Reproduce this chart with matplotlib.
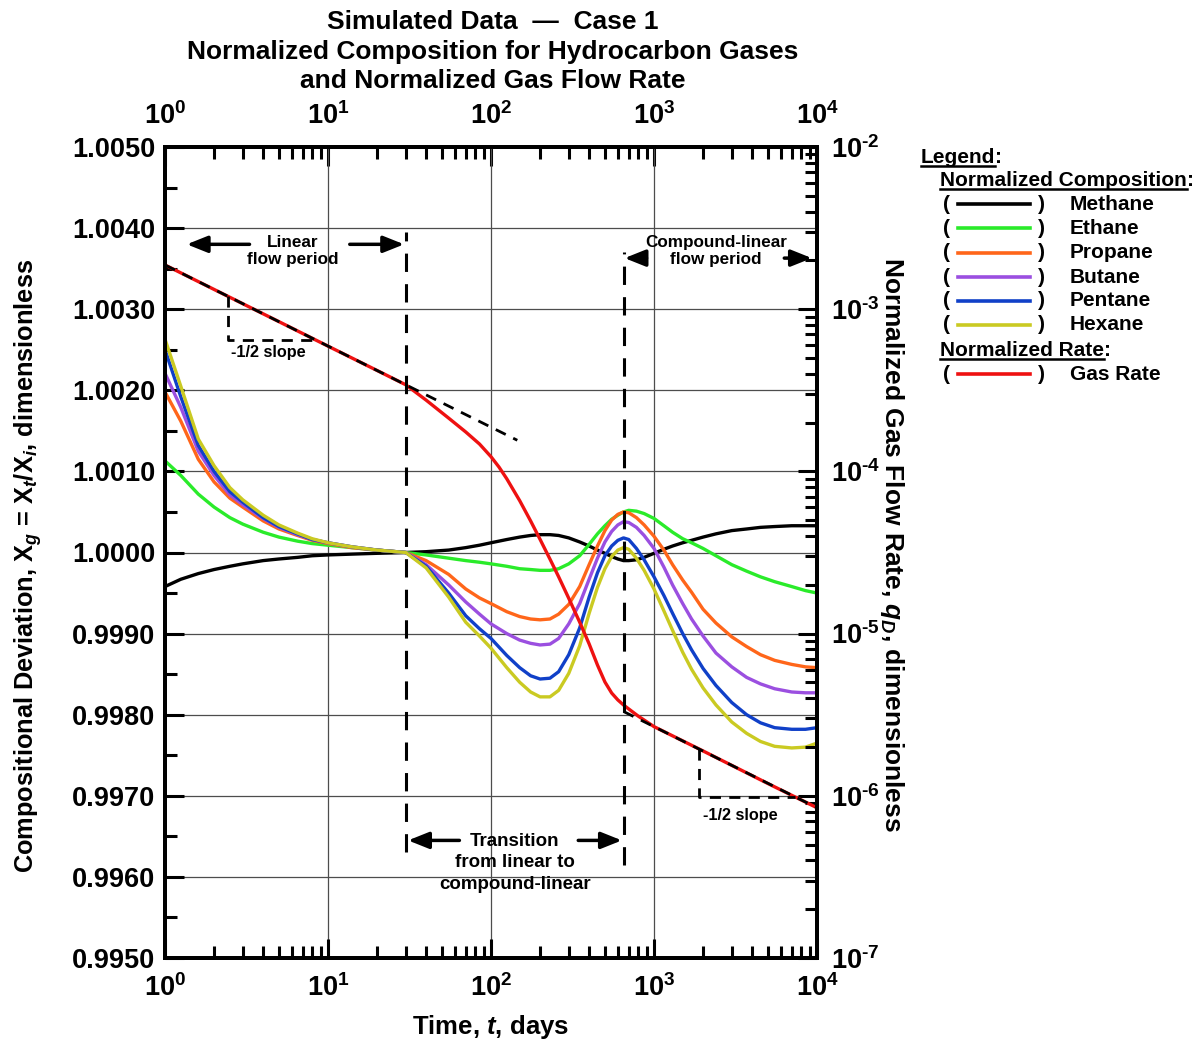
import numpy as np
import matplotlib
matplotlib.use("Agg")
import matplotlib.pyplot as plt
from matplotlib.ticker import FixedLocator, FuncFormatter, LogLocator
from matplotlib.lines import Line2D

plt.rcParams['font.family'] = ['Liberation Sans', 'DejaVu Sans']
plt.rcParams['font.weight'] = 'bold'
plt.rcParams['axes.labelweight'] = 'bold'
plt.rcParams['mathtext.fontset'] = 'custom'
plt.rcParams['mathtext.rm'] = 'Liberation Sans:bold'
plt.rcParams['mathtext.bf'] = 'Liberation Sans:bold'
plt.rcParams['mathtext.it'] = 'Liberation Sans:italic:bold'

# time, days
t = [1, 1.25, 1.6, 2, 2.5, 3, 4, 5, 6.5, 8, 10, 14, 20, 30, 40, 55, 70, 85, 100, 125, 150,
     175, 200, 230, 260, 300, 350, 400, 450, 500, 550, 600, 650, 700, 780, 870, 1000, 1150,
     1300, 1500, 1700, 2000, 2400, 3000, 3700, 4500, 5500, 7000, 8500, 10000]

methane = [0.99958, 0.99967, 0.99974, 0.99979, 0.99983, 0.99986, 0.99990, 0.99992, 0.99994,
           0.99996, 0.99997, 0.99998, 0.99999, 1.00000, 1.00001, 1.00003, 1.00006, 1.00009,
           1.00012, 1.00016, 1.00019, 1.00021, 1.00022, 1.00022, 1.00021, 1.00018, 1.00013,
           1.00008, 1.00003, 0.99999, 0.99995, 0.99992, 0.99990, 0.99990, 0.99991, 0.99994,
           0.99999, 1.00004, 1.00008, 1.00012, 1.00015, 1.00019, 1.00023, 1.00027, 1.00029,
           1.00031, 1.00032, 1.00033, 1.00033, 1.00033]
ethane = [1.00113, 1.00095, 1.00072, 1.00056, 1.00043, 1.00035, 1.00025, 1.00019, 1.00014,
          1.00011, 1.00009, 1.00006, 1.00003, 1.00000, 0.99997, 0.99993, 0.99990, 0.99988,
          0.99986, 0.99983, 0.99980, 0.99979, 0.99978, 0.99978, 0.99980, 0.99986, 0.99996,
          1.00010, 1.00023, 1.00033, 1.00041, 1.00046, 1.00050, 1.00052, 1.00051, 1.00048,
          1.00042, 1.00033, 1.00025, 1.00017, 1.00012, 1.00005, 0.99996, 0.99985, 0.99977,
          0.99970, 0.99964, 0.99958, 0.99953, 0.99950]
propane = [1.00198, 1.00162, 1.00115, 1.00087, 1.00067, 1.00056, 1.00039, 1.00029, 1.00021,
           1.00015, 1.00011, 1.00006, 1.00003, 1.00000, 0.99990, 0.99973, 0.99955, 0.99944,
           0.99937, 0.99927, 0.99921, 0.99918, 0.99917, 0.99918, 0.99924, 0.99936, 0.99958,
           0.99985, 1.00008, 1.00027, 1.00040, 1.00047, 1.00050, 1.00049, 1.00043, 1.00034,
           1.00020, 1.00003, 0.99985, 0.99966, 0.99951, 0.99930, 0.99913, 0.99896, 0.99884,
           0.99874, 0.99867, 0.99862, 0.99859, 0.99858]
butane = [1.00221, 1.00179, 1.00125, 1.00095, 1.00071, 1.00059, 1.00042, 1.00031, 1.00022,
          1.00016, 1.00012, 1.00007, 1.00003, 1.00000, 0.99985, 0.99960, 0.99939, 0.99924,
          0.99912, 0.99900, 0.99892, 0.99888, 0.99886, 0.99887, 0.99894, 0.99912, 0.99937,
          0.99967, 0.99993, 1.00013, 1.00026, 1.00034, 1.00038, 1.00037, 1.00031, 1.00021,
          1.00005, 0.99982, 0.99960, 0.99937, 0.99918, 0.99897, 0.99876, 0.99859, 0.99846,
          0.99838, 0.99832, 0.99828, 0.99827, 0.99827]
pentane = [1.00250, 1.00192, 1.00132, 1.00100, 1.00075, 1.00062, 1.00043, 1.00032, 1.00023,
           1.00016, 1.00012, 1.00007, 1.00003, 1.00000, 0.99983, 0.99950, 0.99922, 0.99906,
           0.99894, 0.99873, 0.99858, 0.99848, 0.99844, 0.99845, 0.99853, 0.99874, 0.99907,
           0.99945, 0.99975, 0.99996, 1.00008, 1.00015, 1.00018, 1.00016, 1.00005, 0.99991,
           0.99970, 0.99947, 0.99925, 0.99900, 0.99880, 0.99857, 0.99836, 0.99815, 0.99800,
           0.99790, 0.99784, 0.99782, 0.99782, 0.99784]
hexane = [1.00263, 1.00205, 1.00140, 1.00107, 1.00080, 1.00065, 1.00046, 1.00034, 1.00024,
          1.00017, 1.00012, 1.00007, 1.00003, 1.00000, 0.99981, 0.99945, 0.99914, 0.99897,
          0.99882, 0.99858, 0.99840, 0.99828, 0.99822, 0.99822, 0.99830, 0.99851, 0.99885,
          0.99925, 0.99957, 0.99980, 0.99995, 1.00003, 1.00006, 1.00004, 0.99993, 0.99978,
          0.99955, 0.99928, 0.99904, 0.99877, 0.99856, 0.99833, 0.99812, 0.99791, 0.99777,
          0.99767, 0.99761, 0.99759, 0.99760, 0.99765]

t_rate = [1, 2, 3, 5, 10, 20, 30, 40, 55, 70, 85, 100, 112, 125, 150, 175, 200, 230, 260,
          300, 350, 400, 450, 500, 550, 600, 650, 700, 800, 1000, 2000, 5000, 10000]
gas_rate = [1.873e-3, 1.324e-3, 1.081e-3, 8.38e-4, 5.92e-4, 4.19e-4, 3.42e-4, 2.75e-4,
            2.13e-4, 1.75e-4, 1.475e-4, 1.232e-4, 1.063e-4, 9.0e-5, 6.6e-5, 4.95e-5, 3.81e-5,
            2.88e-5, 2.24e-5, 1.65e-5, 1.176e-5, 8.64e-6, 6.4e-6, 5.03e-6, 4.3e-6, 3.9e-6,
            3.63e-6, 3.43e-6, 3.10e-6, 2.67e-6, 1.89e-6, 1.19e-6, 8.44e-7]

# -1/2 slope reference lines and triangles (t, rate)
ref1_t = [1, 145]
ref1_q = [1.873e-3, 1.556e-4]
ref2_t = [650, 10000]
ref2_q = [3.31e-6, 8.44e-7]
tri1_t = [2.44, 2.44, 8.4]
tri1_q = [1.199e-3, 6.45e-4, 6.45e-4]
tri2_t = [1900, 1900, 7360]
tri2_q = [1.94e-6, 9.84e-7, 9.84e-7]

decades = [1, 10, 100, 1000, 10000]
names = ['Methane', 'Ethane', 'Propane', 'Butane', 'Pentane', 'Hexane']
series = [methane, ethane, propane, butane, pentane, hexane]
colors = ['#000000', '#2AEB2A', '#FF661A', '#9B4FE0', '#1040C8', '#CACA22']
red = '#EE1111'

W, H = 1204, 1047
fig = plt.figure(figsize=(W / 100, H / 100), dpi=100)
ax = fig.add_axes([165 / W, 1 - 958 / H, 652 / W, 811 / H])
ax2 = ax.twinx()

ax.set_xscale('log')
ax.set_xlim(1, 1e4)
ax.set_ylim(0.9950, 1.0050)
ax2.set_yscale('log')
ax2.set_ylim(1e-7, 1e-2)

ax.grid(True, which='major', color='0.3', lw=0.9)
ax.set_axisbelow(True)

for vals, c in zip(series, colors):
    ax.plot(t, vals, color=c, lw=2.4)

ax2.plot(t_rate, gas_rate, color=red, lw=2.4)
for xs, ys in [(ref1_t, ref1_q), (ref2_t, ref2_q), (tri1_t, tri1_q), (tri2_t, tri2_q)]:
    ax2.plot(xs, ys, color='k', lw=2.0, dashes=(4, 3))

# period boundaries
ax2.plot([30, 30], [0.99631, 1.00395], color='k', lw=2.2, dashes=(6, 4), transform=ax.transData)
ax2.plot([650, 650], [0.99615, 1.00370], color='k', lw=2.2, dashes=(6, 4), transform=ax.transData)


def arrow(x0, x1, y):
    ax.annotate('', xy=(x1, y), xytext=(x0, y),
                arrowprops=dict(arrowstyle='-|>,head_length=0.7,head_width=0.28', lw=2.5,
                                color='k', mutation_scale=18, shrinkA=0, shrinkB=0))


arrow(3.3, 1.36, 1.0038)
arrow(13.6, 29.3, 1.0038)
ax.text(6.1, 1.00372, 'Linear\nflow period', ha='center', va='center', fontsize=12.3,
        linespacing=1.2)

arrow(900, 660, 1.00363)
arrow(6300, 9300, 1.00363)
ax.text(2400, 1.00372, 'Compound-linear\nflow period', ha='center', va='center', fontsize=12.3,
        linespacing=1.2)

arrow(64, 31, 0.99645)
arrow(343, 635, 0.99645)
ax.text(140, 0.99654, 'Transition\nfrom linear to\ncompound-linear', ha='center', va='top',
        fontsize=13.5, linespacing=1.33)

ax.text(4.28, 1.00246, '-1/2 slope', ha='center', va='center', fontsize=11.7)
ax.text(3370, 0.99676, '-1/2 slope', ha='center', va='center', fontsize=11.7)

# ticks
ax.yaxis.set_major_locator(FixedLocator(np.arange(0.9950, 1.00501, 0.001)))
ax.yaxis.set_minor_locator(FixedLocator(np.arange(0.9955, 1.0050, 0.001)))
ax.yaxis.set_major_formatter(FuncFormatter(lambda v, p: '%.4f' % v))


def powfmt(v, p):
    e = int(round(np.log10(v)))
    if e < 0:
        return r'$\mathbf{10^{\text{-}%d}}$' % (-e)
    return r'$\mathbf{10^{%d}}$' % e


logfmt = FuncFormatter(powfmt)
ax.xaxis.set_major_locator(FixedLocator(decades))
ax.xaxis.set_major_formatter(logfmt)
ax2.yaxis.set_major_locator(LogLocator(base=10, numticks=10))
ax2.yaxis.set_major_formatter(logfmt)

TS = 19.5
ax.tick_params(axis='both', which='major', direction='in', length=14, width=2.2,
               labelsize=TS)
ax.tick_params(axis='both', which='minor', direction='in', length=8.5, width=2.2)
ax.tick_params(axis='y', pad=7)
ax.tick_params(axis='x', pad=12)
ax2.tick_params(axis='y', which='major', direction='in', length=14, width=2.2,
                labelsize=TS, pad=10)
ax2.tick_params(axis='y', which='minor', direction='in', length=8.5, width=2.2)

top = ax.secondary_xaxis('top')
top.xaxis.set_major_locator(FixedLocator(decades))
top.xaxis.set_major_formatter(logfmt)
top.tick_params(axis='x', which='major', direction='in', length=14, width=2.2,
                labelsize=TS, pad=12)
top.tick_params(axis='x', which='minor', direction='in', length=8.5, width=2.2)

for a in (ax, ax2):
    for s in a.spines.values():
        s.set_linewidth(2.8)
top.spines['top'].set_linewidth(2.8)

ax.set_xlabel('Time, $t$, days', fontsize=18.5, va='center')
ax.set_ylabel('Compositional Deviation, X$_g$ = X$_t$/X$_i$, dimensionless', fontsize=18.3,
              va='center')
ax2.set_ylabel('Normalized Gas Flow Rate, $q_D$, dimensionless', fontsize=19, rotation=-90,
               va='center')
ax.xaxis.set_label_coords(0.5, (958 - 1027) / 811)
ax.yaxis.set_label_coords((28 - 165) / 652, (958 - 566) / 811)
ax2.yaxis.set_label_coords((892 - 165) / 652, (958 - 544) / 811)

fig.text(493 / W, 1 - 10 / H,
         'Simulated Data  \u2014  Case 1\nNormalized Composition for Hydrocarbon Gases\n'
         'and Normalized Gas Flow Rate',
         ha='center', va='top', fontsize=19, linespacing=1.3)

# legend block
renderer = fig.canvas.get_renderer()
LS = 15


def fx(px):
    return px / W


def fy(py):
    return 1 - py / H


def underlined(xp, yp, word):
    txt = fig.text(fx(xp), fy(yp), word, fontsize=LS, va='baseline')
    bb = txt.get_window_extent(renderer)
    x1 = bb.x1 / fig.bbox.width
    fig.add_artist(Line2D([fx(xp), x1], [fy(yp + 3), fy(yp + 3)], lw=1.8, color='k',
                          transform=fig.transFigure))
    fig.text(x1, fy(yp), ':', fontsize=LS, va='baseline')


def entry(yy, label, color):
    fig.text(fx(943), fy(yy), '(', fontsize=LS, va='center')
    fig.add_artist(Line2D([fx(958), fx(1030)], [fy(yy), fy(yy)], lw=2.6, color=color,
                          transform=fig.transFigure))
    fig.text(fx(1038), fy(yy), ')', fontsize=LS, va='center')
    fig.text(fx(1070), fy(yy), label, fontsize=LS, va='center')


underlined(921, 163, 'Legend')
underlined(940, 186, 'Normalized Composition')
rows = [204, 228, 253, 277, 301, 325]
for yy, n, c in zip(rows, names, colors):
    entry(yy, n, c)
underlined(940, 356, 'Normalized Rate')
entry(374, 'Gas Rate', red)

fig.savefig('out.png', dpi=100)
